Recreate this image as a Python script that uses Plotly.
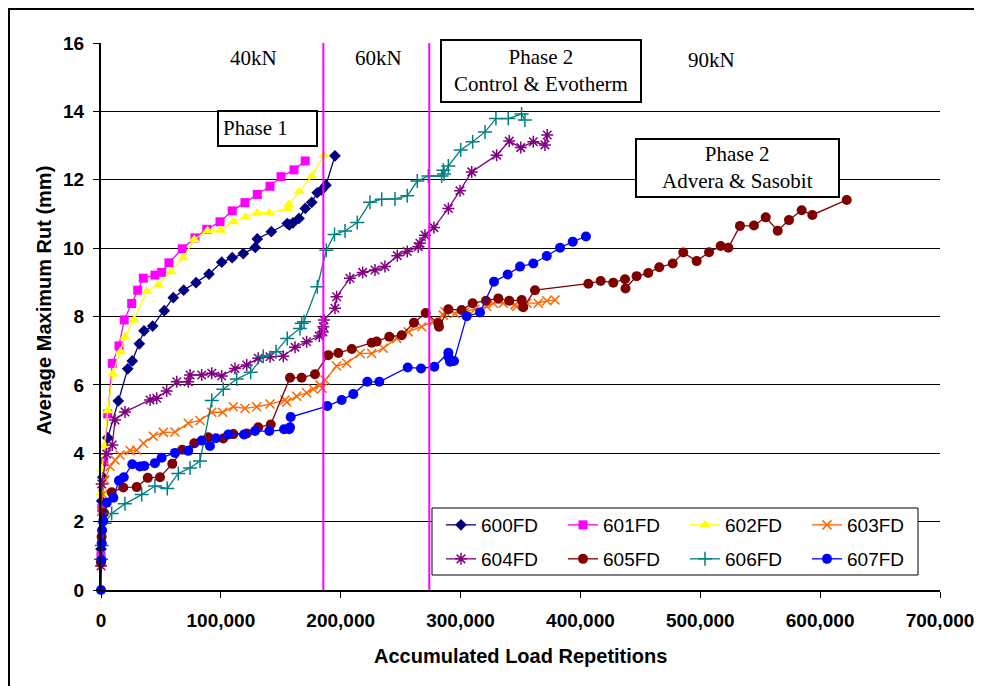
import plotly.graph_objects as go

# ---- data ----
series_names = ['600FD', '601FD', '602FD', '603FD', '604FD', '605FD', '606FD', '607FD']

x_600 = [0, 600, 1500, 5600, 14400, 22300, 26100, 32000, 35900, 43100, 52800, 60300, 69000, 79300, 90100,
         100700, 109500, 118700, 128700, 130400, 142100, 155400, 157100, 160200, 165200, 170400, 175800,
         180400, 184100, 187700, 195200]
y_600 = [1.2, 2.6, 3.3, 4.45, 5.53, 6.47, 6.7, 7.2, 7.58, 7.72, 8.17, 8.55, 8.77, 8.99, 9.24,
         9.59, 9.72, 9.84, 10.02, 10.27, 10.48, 10.72, 10.68, 10.74, 10.87, 11.16, 11.34,
         11.62, 11.7, 11.84, 12.7]

x_601 = [0, 600, 2300, 5600, 9400, 15000, 19400, 25600, 30600, 35300, 45000, 50600, 56700, 67800, 78400,
         88200, 99300, 109500, 120100, 130400, 141000, 150200, 161000, 170400]
y_601 = [1.0, 2.4, 3.75, 5.15, 6.63, 7.14, 7.9, 8.38, 8.77, 9.12, 9.21, 9.29, 9.57, 9.98, 10.3,
         10.55, 10.77, 11.09, 11.33, 11.57, 11.81, 12.09, 12.29, 12.55]

x_602 = [0, 300, 700, 2800, 5600, 9800, 16200, 20000, 27500, 38100, 47800, 58400, 68700, 77800, 89000,
         99900, 110400, 120700, 130400, 140400, 156000, 156600, 165400, 175800, 186000]
y_602 = [0.9, 2.85, 3.53, 4.21, 5.24, 6.32, 6.97, 7.4, 7.9, 8.73, 8.92, 9.31, 9.72, 10.25, 10.51,
         10.52, 10.77, 10.91, 11.03, 11.03, 11.15, 11.27, 11.65, 12.1, 12.72]

x_603 = [0, 500, 1500, 3300, 7500, 11700, 15900, 24200, 29800, 35300, 43600, 52000, 61700, 72800, 82600,
         92400, 101500, 110400, 120100, 129900, 141000, 153500, 155000, 163300, 171600, 177100, 182700,
         184500, 186900, 196600, 205000, 216100, 225800, 235500, 246700, 256400, 267600, 277200, 285600,
         287000, 295300, 303700, 312000, 321800, 327300, 335600, 345400, 346800, 355200, 364800, 371900,
         378800]
y_603 = [0.9, 2.3, 2.8, 3.22, 3.61, 3.8, 3.95, 4.08, 4.09, 4.29, 4.5, 4.61, 4.62, 4.88, 4.96,
         5.2, 5.2, 5.36, 5.31, 5.36, 5.44, 5.56, 5.5, 5.67, 5.77, 5.88, 6.0,
         5.9, 6.14, 6.55, 6.63, 6.92, 6.92, 7.07, 7.36, 7.55, 7.7, 7.85, 8.04,
         8.14, 8.09, 8.14, 8.21, 8.29, 8.39, 8.39, 8.34, 8.29, 8.39, 8.39, 8.46,
         8.48]

x_604 = [0, 600, 4800, 9400, 11700, 20000, 40900, 46500, 54800, 63200, 72800, 74300, 84000, 92400, 100700,
         111800, 121600, 131200, 141000, 152100, 161900, 171600, 182100, 185000, 185500, 186000, 195200,
         196600, 207700, 218300, 228600, 236900, 247200, 255500, 264700, 266100, 270300, 277800, 289800,
         299500, 309300, 330100, 340600, 350200, 360700, 370400, 372300]
y_604 = [0.7, 3.1, 3.98, 4.24, 4.97, 5.21, 5.56, 5.61, 5.82, 6.09, 6.09, 6.29, 6.29, 6.34, 6.26,
         6.48, 6.58, 6.78, 6.82, 6.84, 7.1, 7.26, 7.43, 7.55, 7.7, 7.9, 8.24,
         8.58, 9.12, 9.29, 9.36, 9.46, 9.78, 9.9, 10.04, 10.14, 10.38, 10.6, 11.16,
         11.68, 12.23, 12.72, 13.13, 12.94, 13.11, 13.02, 13.31]

x_605 = [0, 500, 2500, 8900, 18600, 29800, 39000, 49200, 59500, 67800, 77800, 89500, 102000, 110400,
         121600, 131200, 141600, 157700, 167400, 178500, 189600, 198000, 209200, 225800, 230000, 240500,
         250900, 261100, 270900, 281400, 282000, 289800, 300900, 310100, 321200, 331500, 340600, 351000,
         352300, 362100, 406600, 416900, 427400, 437200, 437600, 446900, 456600, 465800, 477000, 485800,
         497000, 507300, 517000, 523400, 533100, 544800, 554600, 564600, 574000, 584600, 593500, 622200]
y_605 = [0.8, 1.56, 2.25, 2.86, 3.0, 3.01, 3.28, 3.3, 3.69, 4.1, 4.29, 4.47, 4.43, 4.56,
         4.58, 4.76, 4.84, 6.21, 6.21, 6.31, 6.87, 6.93, 7.05, 7.23, 7.27, 7.41,
         7.45, 7.82, 8.1, 7.8, 7.7, 8.21, 8.19, 8.39, 8.46, 8.53, 8.46, 8.48,
         8.27, 8.77, 8.96, 9.04, 8.99, 9.09, 8.82, 9.18, 9.27, 9.44, 9.55, 9.87,
         9.62, 9.88, 10.06, 10.01, 10.65, 10.66, 10.9, 10.51, 10.82, 11.11, 10.97, 11.41]

x_606 = [0, 600, 3000, 8900, 20000, 34000, 45000, 55300, 64500, 74300, 82600, 92400, 102000, 113200,
         124900, 135400, 146000, 155400, 166000, 167400, 169400, 180500, 188000, 194800, 203600, 213800,
         224400, 234200, 245300, 255500, 263900, 273100, 284200, 285600, 286200, 289800, 300100, 310100,
         320400, 329500, 339800, 350900, 353700]
y_606 = [0.9, 1.3, 1.95, 2.24, 2.52, 2.79, 3.04, 2.97, 3.41, 3.57, 3.77, 5.54, 5.87, 6.17,
         6.37, 6.84, 6.97, 7.36, 7.65, 7.8, 7.85, 8.87, 9.94, 10.4, 10.5, 10.75,
         11.34, 11.43, 11.44, 11.53, 11.96, 12.11, 12.11, 12.28, 12.17, 12.4, 12.87, 13.11,
         13.4, 13.79, 13.79, 13.92, 13.75]

x_607 = [0, 300, 600, 900, 1900, 4800, 10300, 15000, 19000, 26100, 32500, 36100, 45000, 50600, 61700,
         72800, 84000, 90900, 95900, 106200, 119300, 128500, 140400, 152700, 157000, 157700, 158300,
         188800, 200800, 210500, 222200, 232200, 255900, 267000, 278100, 289800, 289900, 291200, 294500,
         305100, 316200, 327900, 339300, 349600, 360700, 371900, 383000, 393600, 404600]
y_607 = [0, 0.88, 1.37, 1.75, 2.02, 2.55, 2.7, 3.2, 3.3, 3.68, 3.61, 3.63, 3.71, 3.87, 4.01,
         4.07, 4.37, 4.21, 4.44, 4.55, 4.55, 4.65, 4.65, 4.7, 4.7, 4.76, 5.06,
         5.38, 5.56, 5.73, 6.09, 6.09, 6.51, 6.48, 6.53, 6.94, 6.82, 6.68, 6.7,
         8.01, 8.12, 9.02, 9.23, 9.46, 9.55, 9.77, 10.01, 10.19, 10.34]

xs = [x_600, x_601, x_602, x_603, x_604, x_605, x_606, x_607]
ys = [y_600, y_601, y_602, y_603, y_604, y_605, y_606, y_607]

# load change boundaries (40kN -> 60kN -> 90kN)
phase_lines = [185500, 273900]

colors = ['#000080', '#FF00FF', '#FFFF00', '#FF6600', '#800080', '#800000', '#008080', '#0000FF']
symbols = ['diamond', 'square', 'triangle-up', 'x-thin', 'asterisk', 'circle', 'cross-thin', 'circle']
sizes = [9, 9, 10, 9, 10, 10, 10, 10]

# plot area in page pixels (for placing boxes / labels); the page body adds an 8px offset
OFF = 8
W, H = 982 - OFF, 686 - OFF
PL, PR, PT, PB = 101, 940, 43, 590


def px(x):
    return (x - PL) / (PR - PL)


def py(y):
    return (PB - y) / (PB - PT)


fig = go.Figure()

for i, name in enumerate(series_names):
    thin = symbols[i] in ('x-thin', 'asterisk', 'cross-thin')
    fig.add_trace(go.Scatter(
        x=xs[i], y=ys[i], name=name, mode='lines+markers',
        line=dict(color=colors[i], width=1.3),
        marker=dict(symbol=symbols[i], size=sizes[i], color=colors[i],
                    line=dict(color=colors[i], width=1.5 if thin else 0)),
        cliponaxis=False,
        legend='legend' if i < 4 else 'legend2',
    ))

shapes = []
for xv in phase_lines:
    shapes.append(dict(type='line', xref='x', yref='y', x0=xv, x1=xv, y0=0, y1=16,
                       line=dict(color='#FF00FF', width=2), layer='above'))

# outer frame (top and left edges visible)
shapes.append(dict(type='line', xref='paper', yref='paper', x0=px(8), x1=px(1000), y0=py(9), y1=py(9),
                   line=dict(color='black', width=2)))
shapes.append(dict(type='line', xref='paper', yref='paper', x0=px(9), x1=px(9), y0=py(9), y1=py(720),
                   line=dict(color='black', width=2)))

# text boxes
boxes = [(441, 40, 641, 102), (218, 111, 317, 146), (636, 139, 839, 197)]
for x0, y0, x1, y1 in boxes:
    shapes.append(dict(type='rect', xref='paper', yref='paper', x0=px(x0), x1=px(x1), y0=py(y1), y1=py(y0),
                       fillcolor='white', line=dict(color='black', width=2), layer='above'))

# legend frame
shapes.append(dict(type='rect', xref='paper', yref='paper', x0=px(432), x1=px(918), y0=py(575), y1=py(508),
                   fillcolor='white', line=dict(color='black', width=1), layer='above'))

serif = dict(family='Times New Roman, Liberation Serif, serif', size=21, color='black')
annotations = [
    dict(text='40kN', x=px(253), y=py(58)),
    dict(text='60kN', x=px(378), y=py(58)),
    dict(text='90kN', x=px(711), y=py(60)),
    dict(text='Phase 2<br>Control &amp; Evotherm', x=px(541), y=py(70)),
    dict(text='Phase 1', x=px(255), y=py(128)),
    dict(text='Phase 2<br>Advera &amp; Sasobit', x=px(737), y=py(168)),
]
for a in annotations:
    a.update(xref='paper', yref='paper', showarrow=False, font=serif, xanchor='center', yanchor='middle')

bold = dict(family='Arial, Liberation Sans, sans-serif', size=20, color='black', weight='bold')
annotations.append(dict(text='Accumulated Load Repetitions', x=px(520), y=py(656), xref='paper', yref='paper',
                        showarrow=False, font=bold, xanchor='center', yanchor='middle'))
annotations.append(dict(text='Average Maximum Rut (mm)', x=px(44), y=py(301), xref='paper', yref='paper',
                        showarrow=False, font=bold, textangle=-90, xanchor='center', yanchor='middle'))

tickfont = dict(family='Arial, Liberation Sans, sans-serif', size=19, color='black', weight='bold')
legfont = dict(family='Arial, Liberation Sans, sans-serif', size=19, color='black')

fig.update_layout(
    template='none',
    width=W, height=H,
    margin=dict(l=PL - OFF, r=W - (PR - OFF), t=PT - OFF, b=H - (PB - OFF), pad=0),
    paper_bgcolor='white', plot_bgcolor='white',
    showlegend=True,
    xaxis=dict(range=[0, 700000], dtick=100000, tick0=0, tickformat=',d', showgrid=False, zeroline=False,
               showline=True, linecolor='black', linewidth=2, ticks='outside', ticklen=6, tickcolor='black',
               tickfont=tickfont, ticklabelstandoff=6, automargin=False),
    yaxis=dict(range=[0, 16], dtick=2, tick0=0, showgrid=True, gridcolor='black', gridwidth=1, zeroline=False,
               showline=True, linecolor='black', linewidth=2, ticks='outside', ticklen=6, tickcolor='black',
               tickfont=tickfont, ticklabelstandoff=5, automargin=False),
    legend=dict(orientation='h', x=px(441), y=py(525), xanchor='left', yanchor='middle',
                bgcolor='rgba(0,0,0,0)', borderwidth=0, font=legfont,
                entrywidth=77, entrywidthmode='pixels', itemsizing='trace', tracegroupgap=0),
    legend2=dict(orientation='h', x=px(441), y=py(559), xanchor='left', yanchor='middle',
                 bgcolor='rgba(0,0,0,0)', borderwidth=0, font=legfont,
                 entrywidth=77, entrywidthmode='pixels', itemsizing='trace', tracegroupgap=0),
    shapes=shapes,
    annotations=annotations,
)

fig.write_html('out.html')
